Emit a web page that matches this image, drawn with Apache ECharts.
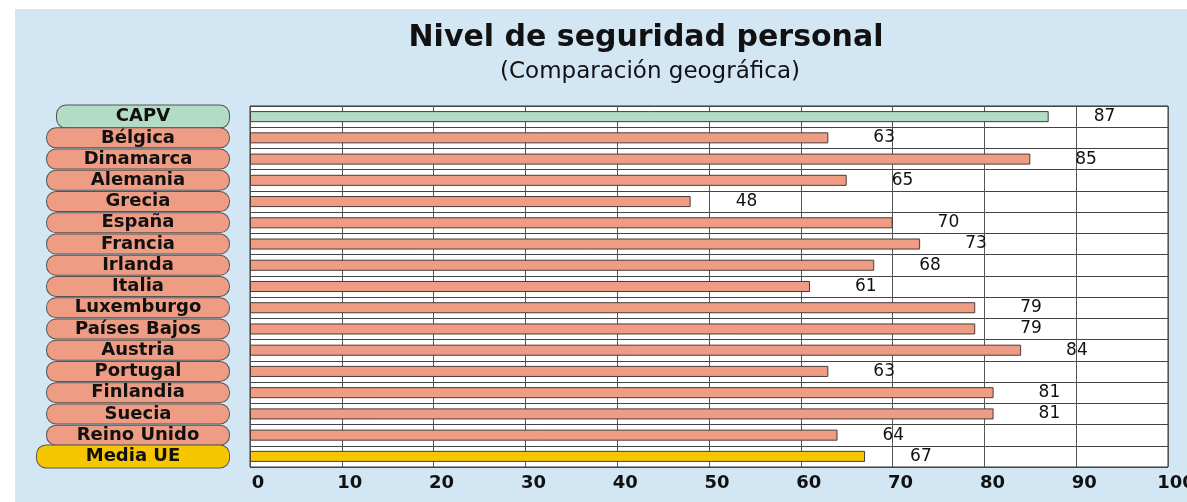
<!DOCTYPE html>
<html>
<head>
<meta charset="utf-8">
<script src="https://cdn.jsdelivr.net/npm/echarts@6/dist/echarts.min.js"></script>
<style>
  body { margin: 0; background: #fff; }
  #wrap { position: relative; width: 1187px; height: 502px; overflow: hidden; }
  #bg { position: absolute; left: 15px; top: 9px; right: 0; bottom: 0; background: #d2e6f4; }
  #main { position: absolute; left: 0; top: 0; width: 1187px; height: 502px; }
</style>
</head>
<body>
<div id="wrap">
  <div id="bg"></div>
  <div id="main"></div>
</div>
<script>
// datos
const paises = ['CAPV', 'Bélgica', 'Dinamarca', 'Alemania', 'Grecia', 'España', 'Francia',
  'Irlanda', 'Italia', 'Luxemburgo', 'Países Bajos', 'Austria', 'Portugal', 'Finlandia',
  'Suecia', 'Reino Unido', 'Media UE'];
const valores = [87, 63, 85, 65, 48, 70, 73, 68, 61, 79, 79, 84, 63, 81, 81, 64, 67];
const titulo = 'Nivel de seguridad personal';
const subtitulo = '(Comparación geográfica)';

const FONT = 'DejaVu Sans';
const VERDE = '#b3dcc7';
const SALMON = '#ef9c84';
const ORO = '#f6c600';

function colorBarra(i) {
  if (i === 0) return VERDE;
  if (i === paises.length - 1) return ORO;
  return SALMON;
}

function caja(color, w, h) {
  return {
    width: w, height: h, lineHeight: h, align: 'center',
    backgroundColor: color, borderColor: '#555', borderWidth: 1, borderRadius: 9,
    fontFamily: FONT, fontWeight: 'bold', fontSize: 18, color: '#111'
  };
}

let myChart = echarts.init(document.getElementById('main'));
myChart.setOption({
  backgroundColor: 'transparent',
  animation: false,
  graphic: [
    {
      type: 'text', x: 646, y: 38,
      style: { text: titulo, font: 'bold 30px "DejaVu Sans"', fill: '#111',
        align: 'center', verticalAlign: 'middle', textAlign: 'center', textVerticalAlign: 'middle' }
    },
    {
      type: 'text', x: 650, y: 72,
      style: { text: subtitulo, font: '23px "DejaVu Sans"', fill: '#111',
        align: 'center', verticalAlign: 'middle', textAlign: 'center', textVerticalAlign: 'middle' }
    }
  ],
  grid: {
    left: 250, right: 19, top: 106, bottom: 35,
    outerBoundsMode: 'none', containLabel: false,
    show: true, backgroundColor: '#fff', borderColor: '#333', borderWidth: 1
  },
  xAxis: {
    type: 'value', min: 0, max: 100, interval: 10,
    axisLine: { show: false },
    axisTick: { show: false },
    splitLine: { show: true, lineStyle: { color: '#555', width: 1 } },
    axisLabel: {
      margin: 7, padding: [0, 0, 0, 16],
      showMinLabel: true, showMaxLabel: true,
      fontFamily: FONT, fontWeight: 'bold', fontSize: 18, color: '#111'
    }
  },
  yAxis: {
    type: 'category', data: paises, inverse: true,
    axisLine: { show: false },
    axisTick: { show: false },
    splitLine: { show: true, lineStyle: { color: '#444', width: 1 } },
    axisLabel: {
      margin: 21, interval: 0,
      showMinLabel: true, showMaxLabel: true, hideOverlap: false,
      formatter: function (value, index) {
        if (index === 0) return '{g|' + value + '}';
        if (index === paises.length - 1) return '{y|' + value + '}';
        return '{s|' + value + '}';
      },
      rich: {
        g: caja(VERDE, 172, 22),
        s: caja(SALMON, 182, 19),
        y: caja(ORO, 192, 22)
      }
    }
  },
  series: [{
    type: 'bar',
    data: valores,
    barWidth: '52%',
    itemStyle: {
      color: function (p) { return colorBarra(p.dataIndex); },
      borderColor: '#4a3b36', borderWidth: 1
    },
    label: {
      show: true, position: 'right', distance: 45,
      fontFamily: FONT, fontSize: 17, color: '#111'
    }
  }]
});
</script>
</body>
</html>
